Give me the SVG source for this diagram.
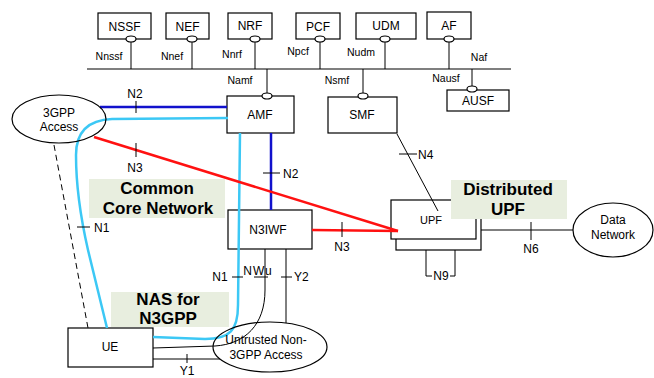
<svg xmlns="http://www.w3.org/2000/svg" width="654" height="378" viewBox="0 0 654 378">
<style>
text{font-family:"Liberation Sans",Arial,sans-serif;fill:#000;text-anchor:middle}
.box{fill:#fff;stroke:#000;stroke-width:1.2}
.ell{fill:none;stroke:#000;stroke-width:1.2}
.pt{fill:#fff;stroke:#000;stroke-width:1.2}
.nf{font-size:12px}
.if{font-size:10.5px}
.lb{font-size:12px}
.big{font-size:17px;font-weight:bold}
.bg{fill:#e8eedf}
.bus{stroke:#555;stroke-width:1.5;fill:none}
.ln{stroke:#000;stroke-width:1;fill:none}
.tk{stroke:#000;stroke-width:1}
.n2{stroke:#1111cc;stroke-width:2.5;fill:none}
.cy{stroke:#3cc8f5;stroke-width:2.5;fill:none}
.rd{stroke:#ff1111;stroke-width:2.5;fill:none}
.ds{stroke:#000;stroke-width:1;stroke-dasharray:6,4;fill:none}
</style>

<g id="bus">
<line class="bus" x1="87" y1="69" x2="511" y2="69"/>
<line class="ln" x1="131" y1="42" x2="131" y2="69"/>
<line class="ln" x1="192" y1="42" x2="192" y2="69"/>
<line class="ln" x1="255" y1="42" x2="255" y2="69"/>
<line class="ln" x1="320" y1="42" x2="320" y2="69"/>
<line class="ln" x1="385" y1="42" x2="385" y2="69"/>
<line class="ln" x1="449" y1="42" x2="449" y2="69"/>
<line class="ln" x1="267" y1="69" x2="267" y2="93"/>
<line class="ln" x1="363" y1="69" x2="363" y2="93"/>
<line class="ln" x1="472" y1="69" x2="472" y2="86"/>
<text class="if" x="109" y="60">Nnssf</text>
<text class="if" x="172" y="60">Nnef</text>
<text class="if" x="232" y="58">Nnrf</text>
<text class="if" x="298" y="55">Npcf</text>
<text class="if" x="361" y="56">Nudm</text>
<text class="if" x="479" y="61">Naf</text>
<text class="if" x="240" y="84">Namf</text>
<text class="if" x="337" y="84">Nsmf</text>
<text class="if" x="446" y="82">Nausf</text>
</g>

<g id="NSSF"><rect class="box" x="98" y="13" width="53" height="26"/><text class="nf" x="124.5" y="31">NSSF</text><ellipse class="pt" cx="131" cy="39" rx="5" ry="3"/></g>
<g id="NEF"><rect class="box" x="166" y="13" width="43" height="26"/><text class="nf" x="187.5" y="31">NEF</text><ellipse class="pt" cx="192" cy="39" rx="5" ry="3"/></g>
<g id="NRF"><rect class="box" x="228" y="13" width="44" height="26"/><text class="nf" x="250" y="30">NRF</text><ellipse class="pt" cx="255" cy="39" rx="5" ry="3"/></g>
<g id="PCF"><rect class="box" x="296" y="13" width="44" height="26"/><text class="nf" x="318" y="31">PCF</text><ellipse class="pt" cx="320" cy="39" rx="5" ry="3"/></g>
<g id="UDM"><rect class="box" x="356" y="13" width="60" height="26"/><text class="nf" x="386" y="30">UDM</text><ellipse class="pt" cx="385" cy="39" rx="5" ry="3"/></g>
<g id="AF"><rect class="box" x="427" y="12" width="44" height="27"/><text class="nf" x="449" y="30">AF</text><ellipse class="pt" cx="449" cy="39" rx="5" ry="3"/></g>

<g id="AMF"><rect class="box" x="227" y="96" width="67" height="37"/><text class="nf" x="260" y="119">AMF</text><ellipse class="pt" cx="267" cy="96" rx="5" ry="3"/></g>
<g id="SMF"><rect class="box" x="328" y="97" width="69" height="36"/><text class="nf" x="362" y="119">SMF</text><ellipse class="pt" cx="363" cy="96" rx="5" ry="3"/></g>
<g id="AUSF"><rect class="box" x="447" y="90" width="62" height="21"/><text class="nf" x="478" y="105">AUSF</text><ellipse class="pt" cx="472" cy="89" rx="5" ry="3"/></g>

<g id="N3IWF"><rect class="box" x="228" y="210" width="84" height="39"/><text class="nf" x="268" y="234">N3IWF</text></g>
<g id="UPF"><rect class="box" x="396" y="205" width="85" height="45"/><rect class="box" x="391" y="200" width="85" height="39"/><text class="lb" x="431" y="224" style="font-size:11px">UPF</text></g>
<g id="UE"><rect class="box" x="68" y="328" width="85" height="39"/><text class="nf" x="110" y="351">UE</text></g>

<g id="connectors">
<path class="ds" d="M54,145 L88,328"/>
<line class="n2" x1="100" y1="107" x2="227" y2="107"/>
<line class="tk" x1="136" y1="101" x2="136" y2="113"/>
<text class="lb" x="135" y="98">N2</text>
<line class="n2" x1="271" y1="133" x2="271" y2="210"/>
<line class="tk" x1="263" y1="173" x2="280" y2="173"/>
<text class="lb" x="283" y="178" style="text-anchor:start">N2</text>
<path class="cy" d="M228,118 L112,119 C88,120 76,132 76,155 C76,185 80,215 88,250 L107,328"/>
<path class="cy" d="M240,133 L238,305 C238,330 230,339 205,339 L153,337"/>
<line class="tk" x1="77" y1="227" x2="90" y2="227"/>
<text class="lb" x="94" y="232" style="text-anchor:start">N1</text>
<line class="rd" x1="94" y1="137" x2="398" y2="231"/>
<line class="tk" x1="136" y1="143" x2="136" y2="157"/>
<text class="lb" x="135" y="172">N3</text>
<line class="rd" x1="312" y1="230" x2="398" y2="231"/>
<line class="tk" x1="342" y1="222" x2="342" y2="237"/>
<text class="lb" x="342" y="251">N3</text>
<line class="ln" x1="397" y1="134" x2="438" y2="211"/>
<line class="tk" x1="399" y1="154" x2="417" y2="154"/>
<text class="lb" x="418" y="159" style="text-anchor:start">N4</text>
<line class="ln" x1="481" y1="230" x2="573" y2="230"/>
<line class="tk" x1="531" y1="222" x2="531" y2="240"/>
<text class="lb" x="531" y="253">N6</text>
<path class="ln" d="M426,250 L426,276 L432,276 M450,276 L455,276 L455,250"/>
<text class="lb" x="441" y="280">N9</text>
<path class="ln" d="M265,249 L265,290 C265,325 245,344 215,346 L153,348"/>
<line class="ln" x1="153" y1="359" x2="220" y2="359"/>
<line class="ln" x1="286" y1="249" x2="286" y2="323"/>
<line class="tk" x1="232" y1="277" x2="243" y2="277"/>
<text class="lb" x="220" y="281">N1</text>
<line class="tk" x1="254" y1="277" x2="268" y2="277"/>
<text class="lb" x="258" y="275" style="letter-spacing:1px">NWu</text>
<line class="tk" x1="281" y1="277" x2="292" y2="277"/>
<text class="lb" x="294" y="281" style="text-anchor:start">Y2</text>
<line class="tk" x1="187" y1="354" x2="187" y2="363"/>
<text class="lb" x="187" y="375">Y1</text>
</g>

<g id="Access3GPP"><ellipse class="ell" cx="59" cy="119" rx="47" ry="24"/><text class="nf" x="59" y="117">3GPP</text><text class="nf" x="59" y="131">Access</text></g>
<g id="DataNetwork"><ellipse class="ell" cx="613" cy="230" rx="40" ry="27"/><text class="nf" x="613" y="224">Data</text><text class="nf" x="613" y="239">Network</text></g>
<g id="Untrusted"><ellipse class="ell" cx="270" cy="347" rx="57" ry="25"/><text class="nf" x="266" y="344">Untrusted Non-</text><text class="nf" x="266" y="359">3GPP Access</text></g>

<g id="CommonCore"><rect class="bg" x="89" y="179" width="136" height="39"/><text class="big" x="157" y="194">Common</text><text class="big" x="158" y="214">Core Network</text></g>
<g id="DistUPF"><rect class="bg" x="451" y="180" width="116" height="39"/><text class="big" x="508" y="195">Distributed</text><text class="big" x="508" y="215">UPF</text></g>
<g id="NAS"><rect class="bg" x="111" y="292" width="118" height="35"/><text class="big" x="168" y="305">NAS for</text><text class="big" x="168" y="324">N3GPP</text></g>
</svg>
